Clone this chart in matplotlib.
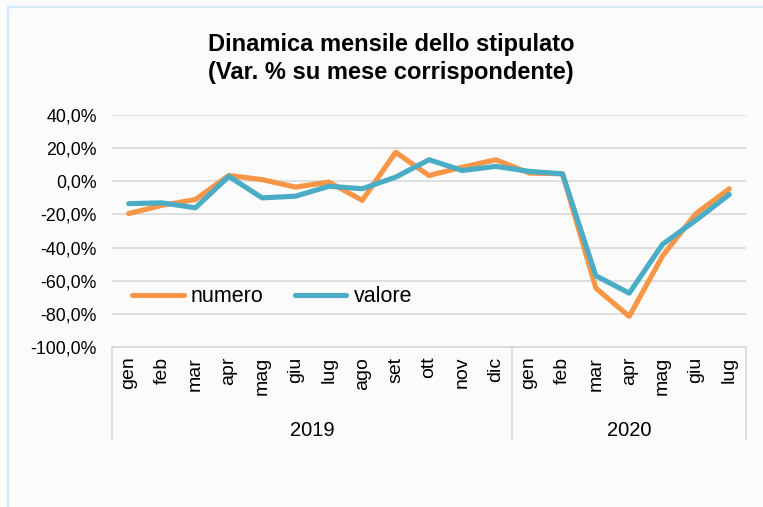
import numpy as np
import matplotlib.pyplot as plt
from matplotlib.patches import Rectangle
import matplotlib.transforms as mtransforms

plt.rcParams['font.family'] = ['Liberation Sans', 'DejaVu Sans']

months = ["gen", "feb", "mar", "apr", "mag", "giu", "lug", "ago", "set", "ott", "nov", "dic",
          "gen", "feb", "mar", "apr", "mag", "giu", "lug"]
years = ["2019", "2020"]
year_len = [12, 7]
numero = [-19.5, -14.5, -11, 3.5, 1, -3.5, -0.5, -11.5, 17.5, 3.5, 8.5, 13,
          5, 4.5, -64.5, -81.5, -45, -19.5, -4.5]
valore = [-13.5, -13, -16, 3, -10, -9, -3, -4.5, 2.5, 13, 6.5, 9,
          6, 4.5, -57, -67.5, -38, -23.5, -8]
yticks = np.arange(-100, 41, 20)

c_num = "#f79646"
c_val = "#4bacc6"
grid_c = "#d9d9d9"

fig = plt.figure(figsize=(7.63, 5.07), dpi=100)
fig.patch.set_facecolor("#fbfbfc")
fig.patches.append(Rectangle((8/763, -0.05), 1.0, 1 - 6.5/507 + 0.05, transform=fig.transFigure,
                             fill=False, edgecolor="#d3e9f4", linewidth=1.6))

ax = fig.add_axes([112/763, 1 - 347/507, (746 - 112)/763, (347 - 115)/507])
ax.set_facecolor("none")
x = np.arange(len(months))
ax.plot(x, numero, color=c_num, lw=3.7, label="numero", solid_capstyle="round", zorder=3)
ax.plot(x, valore, color=c_val, lw=3.7, label="valore", solid_capstyle="round", zorder=4)

ax.set_xlim(-0.5, len(months) - 0.5)
ax.set_ylim(-100, 40)
ax.set_yticks(yticks)
ax.set_yticklabels([f"{v:.1f}%".replace(".", ",") for v in yticks], fontsize=12.8)
ax.grid(axis="y", color=grid_c, lw=1.2, zorder=0)
ax.tick_params(axis="y", length=0, pad=11)
for s in ["top", "right", "left"]:
    ax.spines[s].set_visible(False)
ax.spines["bottom"].set_color(grid_c)
ax.spines["bottom"].set_linewidth(1.2)

ax.set_xticks(x)
ax.set_xticklabels(months, rotation=90, fontsize=14)
ax.tick_params(axis="x", length=0, pad=7)

# year group labels and separators
trans = mtransforms.blended_transform_factory(ax.transData, ax.transAxes)
start = 0
edges = [-0.5]
for yr, n in zip(years, year_len):
    ax.text(start + (n - 1) / 2, -0.358, yr, transform=trans, ha="center", va="center", fontsize=14.5)
    start += n
    edges.append(start - 0.5)
for e in edges:
    ax.plot([e, e], [0, -0.40], transform=trans, color=grid_c, lw=1.2, clip_on=False)

ax.legend(loc="center left", bbox_to_anchor=(0.001, 0.216), ncol=2, frameon=False, fontsize=15.5,
          handlelength=2.4, columnspacing=1.45, handletextpad=0.33)

fig.text(391/763, 1 - 45/507, "Dinamica mensile dello stipulato", ha="center", va="center",
         fontsize=17, fontweight="bold")
fig.text(391/763, 1 - 72/507, "(Var. % su mese corrispondente)", ha="center", va="center",
         fontsize=17, fontweight="bold")

fig.savefig("out.png", dpi=100, facecolor=fig.get_facecolor())
